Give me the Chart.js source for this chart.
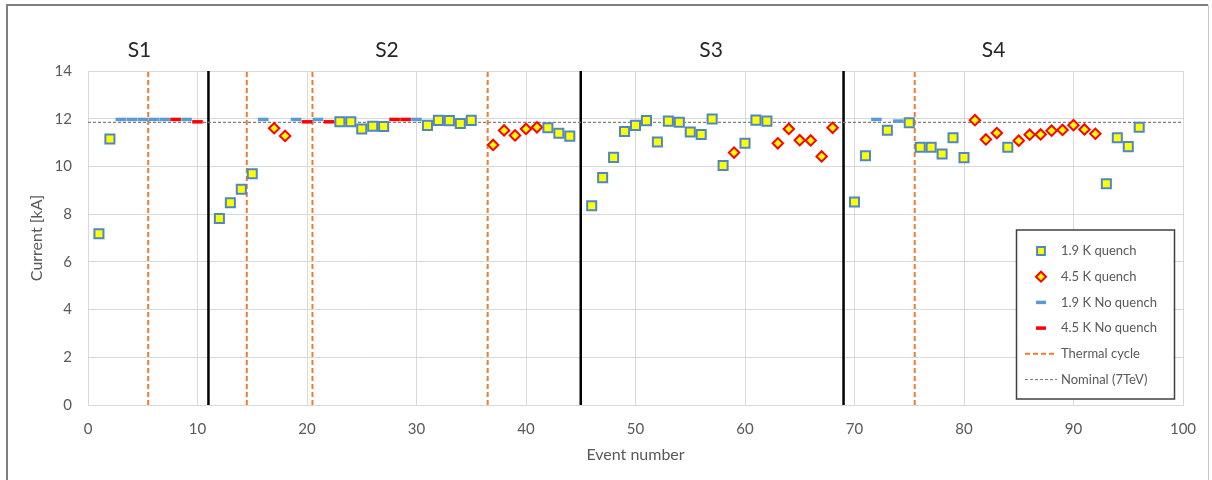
<!DOCTYPE html>
<html>
<head>
<meta charset="utf-8">
<script src="https://cdn.jsdelivr.net/npm/chart.js@4.4.0/dist/chart.umd.min.js"></script>
<style>
  html, body { margin: 0; padding: 0; background: #fff; }
  #wrap { position: relative; width: 1212px; height: 480px; }
</style>
</head>
<body>
<div id="wrap"><canvas id="quenchChart" width="1212" height="480"></canvas></div>
<script>
// data
const q19Events  = [1, 2, 12, 13, 14, 15, 23, 24, 25, 26, 27, 31, 32, 33, 34, 35, 42, 43, 44,
                    46, 47, 48, 49, 50, 51, 52, 53, 54, 55, 56, 57, 58, 60, 61, 62,
                    70, 71, 73, 75, 76, 77, 78, 79, 80, 84, 93, 94, 95, 96];
const q19Current = [7.18, 11.15, 7.82, 8.48, 9.04, 9.69, 11.87, 11.87, 11.57, 11.68, 11.67, 11.72, 11.93, 11.92, 11.8, 11.93, 11.62, 11.39, 11.27,
                    8.35, 9.53, 10.38, 11.46, 11.72, 11.92, 11.02, 11.9, 11.85, 11.44, 11.34, 11.99, 10.04, 10.97, 11.94, 11.9,
                    8.51, 10.45, 11.52, 11.83, 10.8, 10.8, 10.52, 11.2, 10.37, 10.8, 9.27, 11.2, 10.83, 11.64];

const q45Events  = [17, 18, 37, 38, 39, 40, 41, 59, 63, 64, 65, 66, 67, 68,
                    81, 82, 83, 85, 86, 87, 88, 89, 90, 91, 92];
const q45Current = [11.6, 11.28, 10.9, 11.51, 11.3, 11.57, 11.64, 10.58, 10.97, 11.57, 11.1, 11.09, 10.42, 11.62,
                    11.94, 11.13, 11.4, 11.08, 11.33, 11.34, 11.5, 11.53, 11.73, 11.55, 11.37];

const nq19Events  = [3, 4, 5, 6, 7, 9, 16, 19, 21, 30, 72, 74];
const nq19Current = [11.97, 11.97, 11.97, 11.97, 11.97, 11.97, 11.97, 11.97, 11.97, 11.97, 11.97, 11.9];

const nq45Events  = [8, 10, 20, 22, 28, 29];
const nq45Current = [11.97, 11.87, 11.87, 11.87, 11.97, 11.97];

const thermalCycles = [5.5, 14.5, 20.5, 36.5, 75.5];
const sectionBounds = [11, 45, 69];
const sectionNames  = ['S1', 'S2', 'S3', 'S4'];
const sectionMid    = [4.7, 27.3, 56.9, 82.7];
const nominalCurrent = 11.85;

const X_MIN = 0, X_MAX = 100, X_STEP = 10;
const Y_MIN = 0, Y_MAX = 14, Y_STEP = 2;

const FONT = "Lato, 'Open Sans', sans-serif";
const GREY_TXT = '#595959';

function pts(xs, ys) {
    return xs.map((x, i) => ({ x: x, y: ys[i] }));
}

// vertical segments, split by null so each one is its own line
function vlines(xs) {
    const out = [];
    xs.forEach(x => {
        out.push({ x: x, y: Y_MIN }, { x: x, y: Y_MAX }, { x: x, y: null });
    });
    return out;
}

// white page + the grey frame of the screenshot
const framePlugin = {
    id: 'frame',
    beforeDraw(chart) {
        const ctx = chart.ctx;
        ctx.save();
        ctx.fillStyle = '#fff';
        ctx.fillRect(0, 0, chart.width, chart.height);
        ctx.strokeStyle = '#7f7f7f';
        ctx.lineWidth = 2;
        ctx.beginPath();
        ctx.moveTo(7, chart.height);
        ctx.lineTo(7, 5);
        ctx.lineTo(1208, 5);
        ctx.stroke();
        ctx.strokeStyle = '#c8c8c8';
        ctx.lineWidth = 1;
        ctx.beginPath();
        ctx.moveTo(1208.5, 5);
        ctx.lineTo(1208.5, chart.height);
        ctx.stroke();
        ctx.restore();
    }
};

// S1..S4 above the plot
const sectionPlugin = {
    id: 'sections',
    afterDraw(chart) {
        const ctx = chart.ctx;
        const xs = chart.scales.x;
        ctx.save();
        ctx.fillStyle = '#262626';
        ctx.font = '21px ' + FONT;
        ctx.textAlign = 'center';
        ctx.textBaseline = 'middle';
        sectionNames.forEach((name, i) => {
            ctx.fillText(name, xs.getPixelForValue(sectionMid[i]), 50);
        });
        ctx.restore();
    }
};

// boxed legend inside the plot, lower right
const boxLegend = {
    id: 'boxLegend',
    afterDraw(chart, args, opts) {
        const ctx = chart.ctx;
        const items = chart.data.datasets.filter(d => d.legendKind);
        ctx.save();
        ctx.fillStyle = '#fff';
        ctx.fillRect(opts.left, opts.top, opts.width, opts.height);
        ctx.strokeStyle = '#404040';
        ctx.lineWidth = 1.5;
        ctx.strokeRect(opts.left, opts.top, opts.width, opts.height);

        items.forEach((d, i) => {
            const y = opts.top + opts.firstRow + i * opts.rowGap;
            if (d.legendKind === 'marker') {
                ctx.fillStyle = d.backgroundColor;
                ctx.strokeStyle = d.borderColor;
                ctx.lineWidth = d.borderWidth;
                ctx.setLineDash([]);
                Chart.helpers.drawPoint(ctx, {
                    pointStyle: d.pointStyle,
                    rotation: 0,
                    radius: d.legendRadius,
                    borderWidth: d.borderWidth
                }, opts.symbolX, y);
            } else {
                ctx.strokeStyle = d.borderColor;
                ctx.lineWidth = d.borderWidth;
                ctx.setLineDash(d.borderDash || []);
                ctx.beginPath();
                ctx.moveTo(opts.lineFrom, y);
                ctx.lineTo(opts.lineTo, y);
                ctx.stroke();
            }
            ctx.setLineDash([]);
            ctx.fillStyle = GREY_TXT;
            ctx.font = '13px ' + FONT;
            ctx.textAlign = 'left';
            ctx.textBaseline = 'middle';
            ctx.fillText(d.label, opts.textX, y);
        });
        ctx.restore();
    }
};

const datasets = [
    {
        label: '1.9 K quench', legendKind: 'marker', legendRadius: 5.5,
        data: pts(q19Events, q19Current),
        pointStyle: 'rect', pointRadius: 6.4, borderWidth: 2,
        backgroundColor: '#ffff00', borderColor: '#4f86c6'
    },
    {
        label: '4.5 K quench', legendKind: 'marker', legendRadius: 5,
        data: pts(q45Events, q45Current),
        pointStyle: 'rectRot', pointRadius: 5.2, borderWidth: 2,
        backgroundColor: '#ffff00', borderColor: '#ff0000'
    },
    {
        label: '1.9 K No quench', legendKind: 'marker', legendRadius: 5,
        data: pts(nq19Events, nq19Current),
        pointStyle: 'line', pointRadius: 5.3, borderWidth: 3.5,
        backgroundColor: '#5b9bd5', borderColor: '#5b9bd5'
    },
    {
        label: '4.5 K No quench', legendKind: 'marker', legendRadius: 5,
        data: pts(nq45Events, nq45Current),
        pointStyle: 'line', pointRadius: 5.3, borderWidth: 3.5,
        backgroundColor: '#ff0000', borderColor: '#ff0000'
    },
    {
        label: 'Thermal cycle', legendKind: 'line',
        data: vlines(thermalCycles),
        showLine: true, spanGaps: false, pointRadius: 0,
        borderColor: '#ed7d31', borderWidth: 2, borderDash: [5, 3]
    },
    {
        label: 'Nominal (7TeV)', legendKind: 'line',
        data: [{ x: X_MIN, y: nominalCurrent }, { x: X_MAX, y: nominalCurrent }],
        showLine: true, pointRadius: 0,
        borderColor: '#808080', borderWidth: 1.2, borderDash: [3, 2]
    },
    {
        label: 'Sections',
        data: vlines(sectionBounds),
        showLine: true, spanGaps: false, pointRadius: 0,
        borderColor: '#000000', borderWidth: 2.5
    }
];

new Chart(document.getElementById('quenchChart'), {
    type: 'scatter',
    data: { datasets: datasets },
    plugins: [framePlugin, sectionPlugin, boxLegend],
    options: {
        responsive: false,
        animation: false,
        layout: { padding: { left: 0, top: 71, right: 29, bottom: 0 } },
        plugins: {
            legend: { display: false },
            tooltip: { enabled: false },
            boxLegend: {
                left: 1016.5, top: 230, width: 158, height: 169,
                firstRow: 21, rowGap: 25.7,
                symbolX: 1041, lineFrom: 1025, lineTo: 1057, textX: 1061
            }
        },
        scales: {
            x: {
                type: 'linear', min: X_MIN, max: X_MAX,
                afterFit: s => { s.height = 75; },
                grid: { color: '#d9d9d9', drawTicks: false },
                border: { color: '#d9d9d9' },
                ticks: {
                    stepSize: X_STEP, padding: 15, maxRotation: 0, autoSkip: false,
                    color: GREY_TXT, font: { family: FONT, size: 15 }
                },
                title: {
                    display: true, text: 'Event number', color: GREY_TXT,
                    font: { family: FONT, size: 16 }, padding: { top: 0, bottom: 16 }
                }
            },
            y: {
                min: Y_MIN, max: Y_MAX,
                afterFit: s => { s.width = 88; },
                grid: { color: '#d9d9d9', drawTicks: false },
                border: { color: '#d9d9d9' },
                ticks: {
                    stepSize: Y_STEP, padding: 16,
                    color: GREY_TXT, font: { family: FONT, size: 15 }
                },
                title: {
                    display: true, text: 'Current [kA]', color: GREY_TXT,
                    font: { family: FONT, size: 16 }, padding: { top: 27, bottom: 0 }
                }
            }
        }
    }
});
</script>
</body>
</html>
